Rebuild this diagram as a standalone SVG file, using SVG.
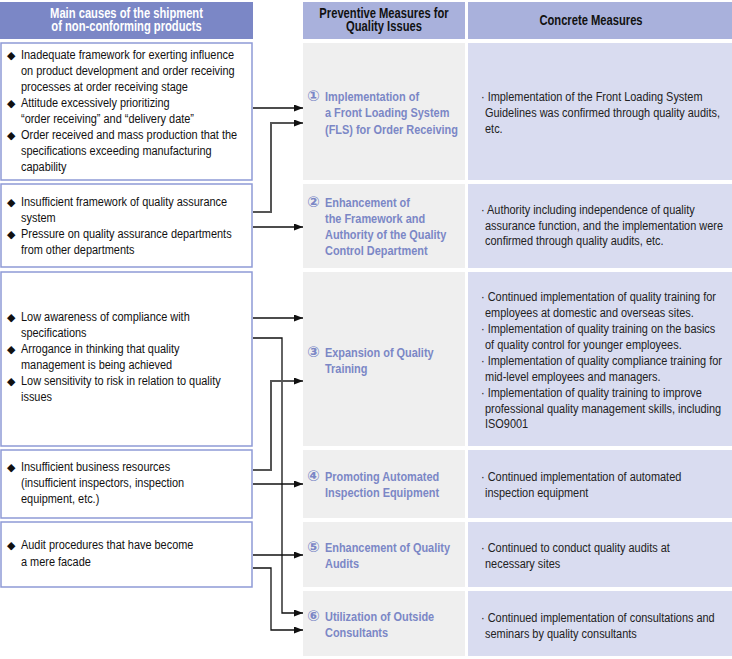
<svg xmlns="http://www.w3.org/2000/svg" width="732" height="659" viewBox="0 0 732 659">
<style>
.hd1{fill:#7b87c6}
.hd2{fill:#a9b1dc}
.lb{fill:#ffffff;stroke:#8e9ad6;stroke-width:1.5}
.mb{fill:#efefef}
.rb{fill:#d9dcf0}
.t{font-family:"Liberation Sans",Arial,sans-serif;font-size:13.5px}
.h{font-size:14px}
.hw{fill:#ffffff;font-weight:bold;text-anchor:middle}
.hk{fill:#111111;font-weight:bold;text-anchor:middle}
.lt{fill:#111111}
.mt{fill:#7b87c6;font-weight:bold}
.rt{fill:#222222}
.dia{font-family:"DejaVu Sans",sans-serif;font-size:11px;fill:#111111}
.num{font-family:"DejaVu Sans","Noto Sans CJK JP",sans-serif;font-size:15px;fill:#7b87c6;font-weight:bold}
.c{fill:none;stroke:#111111;stroke-width:1.3}
.g{fill:none;stroke:#555555;stroke-width:2}
</style>
<defs>
<marker id="ah" markerWidth="9" markerHeight="7" refX="9" refY="3.5" orient="auto" markerUnits="userSpaceOnUse">
<path d="M0,0 L9,3.5 L0,7 z" fill="#111111"/>
</marker>
</defs>

<g id="header-causes">
<rect class="hd1" x="0" y="2" width="253" height="37"/>
<text class="t h hw" transform="translate(126.5,17.5) scale(0.8,1)"><tspan x="0" y="0">Main causes of the shipment</tspan><tspan x="0" y="14">of non-conforming products</tspan></text>
</g>
<g id="header-preventive">
<rect class="hd2" x="303" y="2" width="162" height="37"/>
<text class="t h hk" transform="translate(384,17.5) scale(0.8,1)"><tspan x="0" y="0">Preventive Measures for</tspan><tspan x="0" y="14">Quality Issues</tspan></text>
</g>
<g id="header-concrete">
<rect class="hd2" x="468" y="2" width="264" height="37"/>
<text class="t h hk" transform="translate(591,25) scale(0.8,1)">Concrete Measures</text>
</g>

<g id="cause-1">
<rect class="lb" x="1" y="43" width="251" height="137"/>
<text class="dia" x="7" y="59">◆</text><text class="dia" x="7" y="107">◆</text><text class="dia" x="7" y="139">◆</text>
<text class="t lt" transform="translate(21,59) scale(0.81,1)"><tspan x="0" y="0">Inadequate framework for exerting influence</tspan><tspan x="0" y="16">on product development and order receiving</tspan><tspan x="0" y="32">processes at order receiving stage</tspan><tspan x="0" y="48">Attitude excessively prioritizing</tspan><tspan x="0" y="64">“order receiving” and “delivery date”</tspan><tspan x="0" y="80">Order received and mass production that the</tspan><tspan x="0" y="96">specifications exceeding manufacturing</tspan><tspan x="0" y="112">capability</tspan></text>
</g>
<g id="cause-2">
<rect class="lb" x="1" y="184" width="251" height="83"/>
<text class="dia" x="7" y="206">◆</text><text class="dia" x="7" y="238">◆</text>
<text class="t lt" transform="translate(21,206) scale(0.81,1)"><tspan x="0" y="0">Insufficient framework of quality assurance</tspan><tspan x="0" y="16">system</tspan><tspan x="0" y="32">Pressure on quality assurance departments</tspan><tspan x="0" y="48">from other departments</tspan></text>
</g>
<g id="cause-3">
<rect class="lb" x="1" y="272" width="251" height="174"/>
<text class="dia" x="7" y="321">◆</text><text class="dia" x="7" y="353">◆</text><text class="dia" x="7" y="385">◆</text>
<text class="t lt" transform="translate(21,321) scale(0.81,1)"><tspan x="0" y="0">Low awareness of compliance with</tspan><tspan x="0" y="16">specifications</tspan><tspan x="0" y="32">Arrogance in thinking that quality</tspan><tspan x="0" y="48">management is being achieved</tspan><tspan x="0" y="64">Low sensitivity to risk in relation to quality</tspan><tspan x="0" y="80">issues</tspan></text>
</g>
<g id="cause-4">
<rect class="lb" x="1" y="450" width="251" height="68"/>
<text class="dia" x="7" y="471">◆</text>
<text class="t lt" transform="translate(21,471) scale(0.81,1)"><tspan x="0" y="0">Insufficient business resources</tspan><tspan x="0" y="16">(insufficient inspectors, inspection</tspan><tspan x="0" y="32">equipment, etc.)</tspan></text>
</g>
<g id="cause-5">
<rect class="lb" x="1" y="522" width="251" height="65"/>
<text class="dia" x="7" y="549">◆</text>
<text class="t lt" transform="translate(21,549) scale(0.81,1)"><tspan x="0" y="0">Audit procedures that have become</tspan><tspan x="0" y="17">a mere facade</tspan></text>
</g>

<g id="measure-1">
<rect class="mb" x="303" y="43" width="162" height="137"/>
<text class="num" x="307" y="101">①</text>
<text class="t mt" transform="translate(325,101) scale(0.81,1)"><tspan x="0" y="0">Implementation of</tspan><tspan x="0" y="16.5">a Front Loading System</tspan><tspan x="0" y="33">(FLS) for Order Receiving</tspan></text>
</g>
<g id="measure-2">
<rect class="mb" x="303" y="184" width="162" height="84"/>
<text class="num" x="307" y="207">②</text>
<text class="t mt" transform="translate(325,207) scale(0.81,1)"><tspan x="0" y="0">Enhancement of</tspan><tspan x="0" y="16">the Framework and</tspan><tspan x="0" y="32">Authority of the Quality</tspan><tspan x="0" y="48">Control Department</tspan></text>
</g>
<g id="measure-3">
<rect class="mb" x="303" y="272" width="162" height="174"/>
<text class="num" x="307" y="357">③</text>
<text class="t mt" transform="translate(325,357) scale(0.81,1)"><tspan x="0" y="0">Expansion of Quality</tspan><tspan x="0" y="16">Training</tspan></text>
</g>
<g id="measure-4">
<rect class="mb" x="303" y="450" width="162" height="68"/>
<text class="num" x="307" y="481">④</text>
<text class="t mt" transform="translate(325,481) scale(0.81,1)"><tspan x="0" y="0">Promoting Automated</tspan><tspan x="0" y="16">Inspection Equipment</tspan></text>
</g>
<g id="measure-5">
<rect class="mb" x="303" y="522" width="162" height="65"/>
<text class="num" x="307" y="552">⑤</text>
<text class="t mt" transform="translate(325,552) scale(0.81,1)"><tspan x="0" y="0">Enhancement of Quality</tspan><tspan x="0" y="16">Audits</tspan></text>
</g>
<g id="measure-6">
<rect class="mb" x="303" y="591" width="162" height="65"/>
<text class="num" x="307" y="621">⑥</text>
<text class="t mt" transform="translate(325,621) scale(0.81,1)"><tspan x="0" y="0">Utilization of Outside</tspan><tspan x="0" y="16">Consultants</tspan></text>
</g>

<g id="concrete-1">
<rect class="rb" x="468" y="43" width="264" height="137"/>
<text class="t rt" transform="translate(481,101) scale(0.81,1)"><tspan x="0" y="0">· Implementation of the Front Loading System</tspan><tspan x="5" y="16">Guidelines was confirmed through quality audits,</tspan><tspan x="5" y="32">etc.</tspan></text>
</g>
<g id="concrete-2">
<rect class="rb" x="468" y="184" width="264" height="84"/>
<text class="t rt" transform="translate(481,214) scale(0.81,1)"><tspan x="0" y="0">· Authority including independence of quality</tspan><tspan x="5" y="16">assurance function, and the implementation were</tspan><tspan x="5" y="31">confirmed through quality audits, etc.</tspan></text>
</g>
<g id="concrete-3">
<rect class="rb" x="468" y="272" width="264" height="174"/>
<text class="t rt" transform="translate(481,301) scale(0.81,1)"><tspan x="0" y="0">· Continued implementation of quality training for</tspan><tspan x="5" y="16">employees at domestic and overseas sites.</tspan><tspan x="0" y="32">· Implementation of quality training on the basics</tspan><tspan x="5" y="48">of quality control for younger employees.</tspan><tspan x="0" y="64">· Implementation of quality compliance training for</tspan><tspan x="5" y="80">mid-level employees and managers.</tspan><tspan x="0" y="96">· Implementation of quality training to improve</tspan><tspan x="5" y="112">professional quality management skills, including</tspan><tspan x="5" y="127">ISO9001</tspan></text>
</g>
<g id="concrete-4">
<rect class="rb" x="468" y="450" width="264" height="68"/>
<text class="t rt" transform="translate(481,481) scale(0.81,1)"><tspan x="0" y="0">· Continued implementation of automated</tspan><tspan x="5" y="16">inspection equipment</tspan></text>
</g>
<g id="concrete-5">
<rect class="rb" x="468" y="522" width="264" height="65"/>
<text class="t rt" transform="translate(481,552) scale(0.81,1)"><tspan x="0" y="0">· Continued to conduct quality audits at</tspan><tspan x="5" y="16">necessary sites</tspan></text>
</g>
<g id="concrete-6">
<rect class="rb" x="468" y="591" width="264" height="65"/>
<text class="t rt" transform="translate(481,622) scale(0.81,1)"><tspan x="0" y="0">· Continued implementation of consultations and</tspan><tspan x="5" y="16">seminars by quality consultants</tspan></text>
</g>

<g id="connectors">
<path class="c" d="M253,108 H303" marker-end="url(#ah)"/>
<path class="g" d="M253,212 H271 V123 H303" marker-end="url(#ah)"/>
<path class="c" d="M253,227 H303" marker-end="url(#ah)"/>
<path class="c" d="M253,318 H303" marker-end="url(#ah)"/>
<path class="c" d="M253,338 H282 V613 H303" marker-end="url(#ah)"/>
<path class="g" d="M253,470 H271 V381 H303" marker-end="url(#ah)"/>
<path class="c" d="M253,484 H303" marker-end="url(#ah)"/>
<path class="c" d="M253,555 H303" marker-end="url(#ah)"/>
<path class="c" d="M253,568 H271 V630 H303" marker-end="url(#ah)"/>
</g>
</svg>
